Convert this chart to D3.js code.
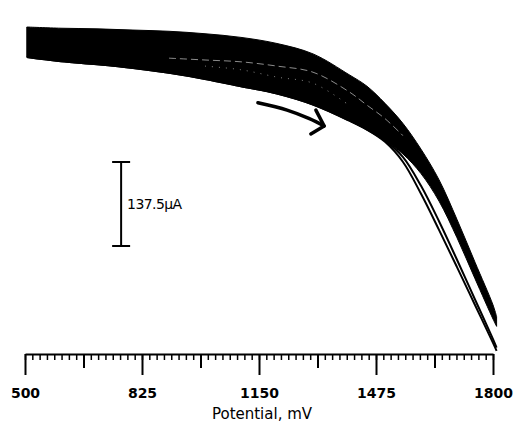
<!DOCTYPE html>
<html>
<head>
<meta charset="utf-8">
<script src="https://cdn.jsdelivr.net/npm/d3@7"></script>
<style>
html,body{margin:0;padding:0;background:#fff;}
svg{display:block;}
</style>
</head>
<body>
<svg id="chart" width="521" height="430"></svg>
<script>
// ---- data (potential in mV, current in µA) ----
const potentials = [505, 600, 700, 800, 900, 1000, 1100, 1200, 1300, 1400, 1450, 1500, 1550, 1600, 1650, 1700, 1750, 1800, 1810];
// envelope of the bundle of overlapping cycles
const bandUpper = [0, -2, -3, -5, -7, -11, -17, -27, -44, -78, -97, -125, -158, -200, -250, -315, -385, -455, -474];
const bandLower = [-49, -56, -61, -67, -75, -85, -97, -109, -127, -153, -168, -186, -208, -240, -285, -345, -412, -478, -490];
// two separated cycles at high potential
const cycleA = [-49, -56, -61, -67, -75, -85, -97, -109, -127, -153, -168, -186, -213, -260, -318, -381, -446, -511, -525];
const cycleB = [-49, -56, -61, -67, -75, -85, -97, -109, -127, -153, -168, -188, -221, -273, -332, -393, -455, -517, -530];
// light streaks inside the bundle
const streakPot = [900, 1000, 1100, 1200, 1300, 1400, 1450, 1500, 1550];
const streakA = [-51, -54, -57, -64, -74, -106, -128, -150, -178];
const streakPotB = [1000, 1100, 1200, 1300, 1400];
const streakB = [-64, -70, -82, -92, -128];
// scan direction arrow
const arrowPot = [1147, 1228, 1290, 1331];
const arrowCur = [-124, -136, -150, -162];
const arrowHeadPot = [1308, 1331, 1294];
const arrowHeadCur = [-136, -162, -175];
// axis ticks and scale bar
const majorTicks = [500, 825, 1150, 1475, 1800];
const midTicks = [662.5, 987.5, 1312.5, 1637.5];
const minorStep = 325 / 16;
const scaleBarPot = 767;
const scaleBarTop = -221;
const scaleBarSize = 137.5;
const scaleBarLabel = "137.5µA";
const xTitle = "Potential, mV";

// ---- scales ----
const svg = d3.select("#chart");
const x = d3.scaleLinear().domain([500, 1800]).range([25, 493]);
const y = d3.scaleLinear().domain([0, -550]).range([27, 27 + 550 * 84 / 137.5]);

const pts = (xs, ys) => xs.map((e, i) => [e, ys[i]]);
const smooth = d3.curveCatmullRom.alpha(0.5);

// band
const bandData = potentials.map((e, i) => ({e, u: bandUpper[i], l: bandLower[i]}));
svg.append("path")
  .datum(bandData)
  .attr("fill", "#000")
  .attr("stroke", "#000")
  .attr("stroke-width", 1)
  .attr("d", d3.area().x(d => x(d.e)).y0(d => y(d.l)).y1(d => y(d.u)).curve(smooth));

const line = d3.line().x(d => x(d[0])).y(d => y(d[1])).curve(smooth);

[cycleA, cycleB].forEach(c => {
  svg.append("path")
    .datum(pts(potentials, c))
    .attr("fill", "none")
    .attr("stroke", "#000")
    .attr("stroke-width", 2)
    .attr("d", line);
});

// streaks
svg.append("path")
  .datum(pts(streakPot, streakA))
  .attr("fill", "none")
  .attr("stroke", "#fff")
  .attr("stroke-opacity", 0.55)
  .attr("stroke-width", 1)
  .attr("stroke-dasharray", "7,4")
  .attr("d", line);
svg.append("path")
  .datum(pts(streakPotB, streakB))
  .attr("fill", "none")
  .attr("stroke", "#fff")
  .attr("stroke-opacity", 0.5)
  .attr("stroke-width", 1)
  .attr("stroke-dasharray", "1,6")
  .attr("d", line);

// arrow
svg.append("path")
  .datum(pts(arrowPot, arrowCur))
  .attr("fill", "none")
  .attr("stroke", "#000")
  .attr("stroke-width", 3.5)
  .attr("stroke-linecap", "round")
  .attr("d", line);
svg.append("path")
  .datum(pts(arrowHeadPot, arrowHeadCur))
  .attr("fill", "none")
  .attr("stroke", "#000")
  .attr("stroke-width", 3.5)
  .attr("stroke-linecap", "round")
  .attr("stroke-linejoin", "round")
  .attr("d", d3.line().x(d => x(d[0])).y(d => y(d[1])));

// scale bar
const sbx = x(scaleBarPot);
const sbTop = y(scaleBarTop), sbBot = y(scaleBarTop - scaleBarSize);
const sb = svg.append("g").attr("stroke", "#000").attr("stroke-width", 2);
sb.append("line").attr("x1", sbx).attr("x2", sbx).attr("y1", sbTop).attr("y2", sbBot);
sb.append("line").attr("x1", sbx - 9).attr("x2", sbx + 9).attr("y1", sbTop).attr("y2", sbTop);
sb.append("line").attr("x1", sbx - 9).attr("x2", sbx + 9).attr("y1", sbBot).attr("y2", sbBot);
svg.append("text")
  .attr("x", sbx + 6).attr("y", (sbTop + sbBot) / 2 + 5)
  .attr("font-family", "DejaVu Sans, sans-serif")
  .attr("font-size", 14)
  .attr("textLength", 55)
  .attr("fill", "#000")
  .text(scaleBarLabel);

// x axis
const axisY = 354;
const minorTicks = d3.range(0, 65).map(i => 500 + i * minorStep);
const gMinor = svg.append("g").attr("transform", `translate(0,${axisY})`)
  .call(d3.axisBottom(x).tickValues(minorTicks).tickSize(6).tickSizeOuter(0).tickFormat(""));
gMinor.select(".domain").remove();
gMinor.selectAll("line").attr("stroke", "#000").attr("stroke-width", 1.5);

const gMid = svg.append("g").attr("transform", `translate(0,${axisY})`)
  .call(d3.axisBottom(x).tickValues(midTicks).tickSize(14).tickSizeOuter(0).tickFormat(""));
gMid.select(".domain").remove();
gMid.selectAll("line").attr("stroke", "#000").attr("stroke-width", 2);

const gMaj = svg.append("g").attr("transform", `translate(0,${axisY})`)
  .call(d3.axisBottom(x).tickValues(majorTicks).tickSize(21).tickSizeOuter(0).tickPadding(13).tickFormat(d3.format("d")));
gMaj.select(".domain").attr("stroke", "#000").attr("stroke-width", 2);
gMaj.selectAll("line").attr("stroke", "#000").attr("stroke-width", 2);
gMaj.selectAll("text")
  .attr("font-family", "DejaVu Sans, sans-serif")
  .attr("font-weight", "bold")
  .attr("font-size", 14)
  .attr("fill", "#000");

svg.append("text")
  .attr("x", 262).attr("y", 419)
  .attr("text-anchor", "middle")
  .attr("font-family", "DejaVu Sans, sans-serif")
  .attr("font-size", 15)
  .attr("fill", "#000")
  .text(xTitle);
</script>
</body>
</html>
